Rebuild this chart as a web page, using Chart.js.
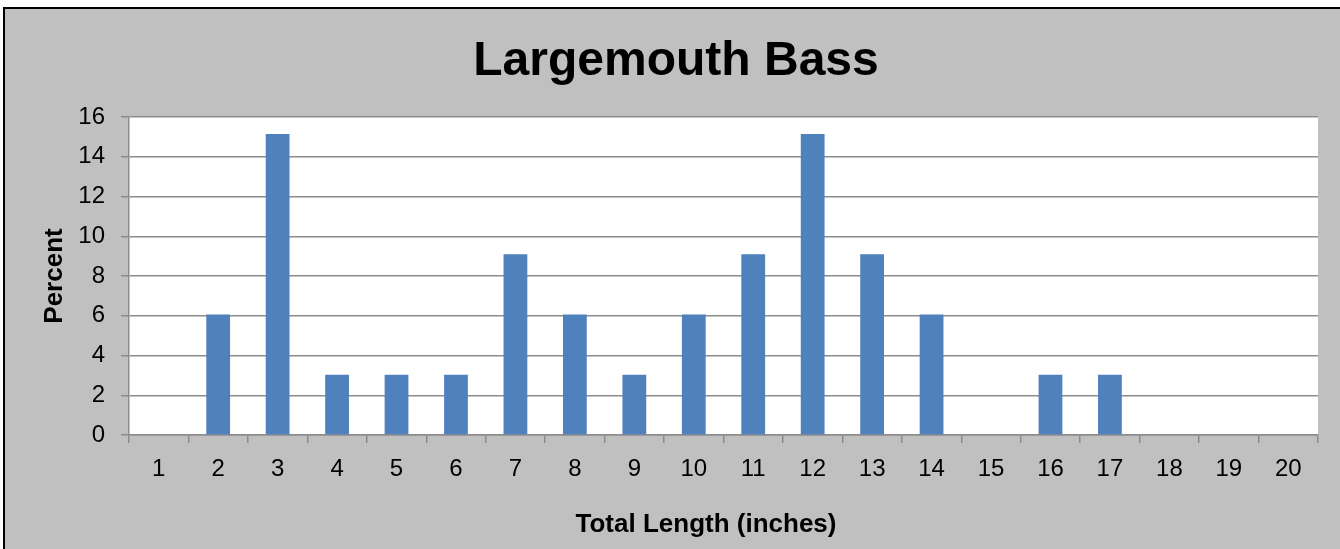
<!DOCTYPE html>
<html>
<head>
<meta charset="utf-8">
<title>Largemouth Bass</title>
<script src="https://cdn.jsdelivr.net/npm/chart.js@4.4.1/dist/chart.umd.min.js"></script>
<style>
  html, body { margin: 0; padding: 0; background: #ffffff; overflow: hidden; }
  canvas { display: block; }
</style>
</head>
<body>
<canvas id="bassChart" width="1340" height="549"></canvas>
<script>
// data (percent of fish per inch class)
const lengths = ["1", "2", "3", "4", "5", "6", "7", "8", "9", "10",
                 "11", "12", "13", "14", "15", "16", "17", "18", "19", "20"];
const percents = [0, 6.06, 15.15, 3.03, 3.03, 3.03, 9.09, 6.06, 3.03, 6.06,
                  9.09, 15.15, 9.09, 6.06, 0, 3.03, 3.03, 0, 0, 0];
const yTicks = [0, 2, 4, 6, 8, 10, 12, 14, 16];

const chartTitle = "Largemouth Bass";
const xTitle = "Total Length (inches)";
const yTitle = "Percent";

const FONT = "'Liberation Sans', Arial, sans-serif";
const gridGray = "#8c8c8c";

// background, white plot area, black frame and the titles
const frame = {
  id: "frame",
  beforeDraw(chart) {
    const ctx = chart.ctx;
    const a = chart.chartArea;
    ctx.save();
    ctx.fillStyle = "#ffffff";
    ctx.fillRect(0, 0, chart.width, chart.height);
    ctx.fillStyle = "#c0c0c0";
    ctx.fillRect(4, 8, chart.width, chart.height);
    // only the left and top edges of the frame are inside the window
    ctx.strokeStyle = "#000000";
    ctx.lineWidth = 2;
    ctx.beginPath();
    ctx.moveTo(4, chart.height);
    ctx.lineTo(4, 8);
    ctx.lineTo(chart.width, 8);
    ctx.stroke();
    ctx.fillStyle = "#ffffff";
    ctx.fillRect(a.left, a.top, a.right - a.left, a.bottom - a.top);
    ctx.restore();
  },
  afterDraw(chart) {
    const ctx = chart.ctx;
    const a = chart.chartArea;
    ctx.save();
    ctx.fillStyle = "#000000";
    ctx.textAlign = "center";
    ctx.textBaseline = "alphabetic";
    ctx.font = "bold 48px " + FONT;
    ctx.fillText(chartTitle, 676, 75);
    ctx.font = "bold 26px " + FONT;
    ctx.fillText(xTitle, 706, 532);
    ctx.translate(62, (a.top + a.bottom) / 2);
    ctx.rotate(-Math.PI / 2);
    ctx.fillText(yTitle, 0, 0);
    ctx.restore();
  }
};

new Chart(document.getElementById("bassChart"), {
  type: "bar",
  data: {
    labels: lengths,
    datasets: [
      {
        label: yTitle,
        data: percents,
        backgroundColor: "#4f81bd",
        borderWidth: 0,
        categoryPercentage: 1,
        barPercentage: 0.4
      }
    ]
  },
  options: {
    responsive: false,
    animation: false,
    events: [],
    layout: { padding: { top: 117, left: 0, right: 22, bottom: 0 } },
    plugins: {
      legend: { display: false },
      title: { display: false },
      tooltip: { enabled: false }
    },
    scales: {
      x: {
        grid: {
          offset: true,
          drawOnChartArea: false,
          drawTicks: true,
          tickLength: 8,
          color: gridGray,
          lineWidth: 1.5
        },
        border: { display: true, color: gridGray, width: 1.5 },
        ticks: {
          color: "#000000",
          padding: 12,
          maxRotation: 0,
          autoSkip: false,
          font: { family: FONT, size: 24 }
        },
        afterFit(scale) { scale.height = 114; }
      },
      y: {
        min: 0,
        max: 16,
        afterBuildTicks(scale) {
          scale.ticks = yTicks.map((v) => ({ value: v }));
        },
        grid: {
          drawTicks: true,
          tickLength: 8,
          color: gridGray,
          lineWidth: 1.5
        },
        border: { display: true, color: gridGray, width: 1.5 },
        ticks: {
          color: "#000000",
          padding: 16,
          font: { family: FONT, size: 24 }
        },
        afterFit(scale) { scale.width = 129; }
      }
    }
  },
  plugins: [frame]
});
</script>
</body>
</html>
